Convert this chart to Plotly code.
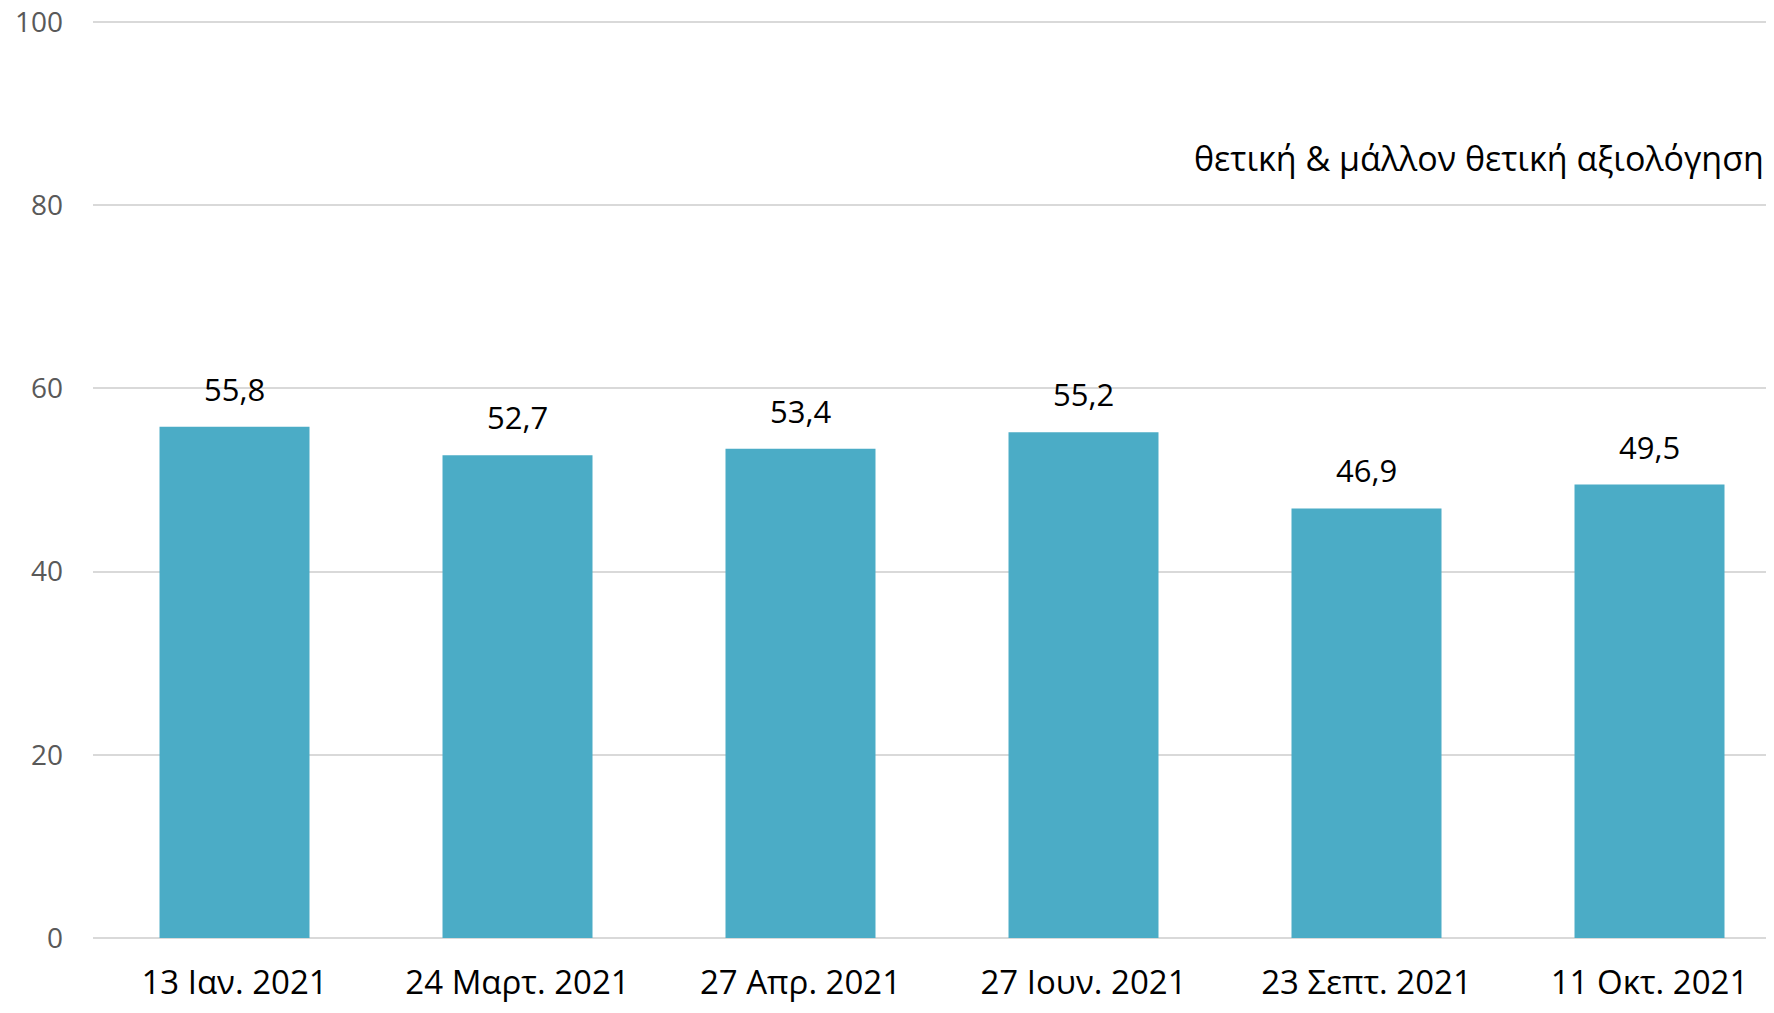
import plotly.graph_objects as go

categories = ["13 Ιαν. 2021", "24 Μαρτ. 2021", "27 Απρ. 2021", "27 Ιουν. 2021", "23 Σεπτ. 2021", "11 Οκτ. 2021"]
values = [55.8, 52.7, 53.4, 55.2, 46.9, 49.5]
series_name = "θετική & μάλλον θετική αξιολόγηση"
y_ticks = [0, 20, 40, 60, 80, 100]

# page has an 8px body margin; keep figure inside the viewport
W, H = 1758, 997
ML, MR, MT, MB = 85, 0, 12, 67
PH = H - MT - MB
PW = W - ML - MR
YTOP = 100 * PH / 916
XSPAN = PW / 283.0

FONT = "Open Sans"

fig = go.Figure()
fig.add_trace(go.Bar(
    x=list(range(len(categories))), y=values, name=series_name,
    marker=dict(color="#4BACC6", line=dict(width=0)),
    width=0.53, showlegend=False, hoverinfo="skip",
))

for i, v in enumerate(values):
    fig.add_annotation(
        x=i, y=v, xref="x", yref="y", text=f"{v:.1f}".replace(".", ","),
        showarrow=False, yanchor="bottom", yshift=15,
        font=dict(family=FONT, size=31, color="#000000"),
    )

fig.add_annotation(
    x=1.0, y=(930 - 150) / PH, xref="paper", yref="paper",
    text=series_name, showarrow=False, xanchor="right", yanchor="middle",
    font=dict(family=FONT, size=34, color="#000000"),
)

fig.update_layout(
    width=W, height=H,
    margin=dict(l=ML, r=MR, t=MT, b=MB, pad=0, autoexpand=False),
    paper_bgcolor="white", plot_bgcolor="white",
)
fig.update_xaxes(
    tickmode="array", tickvals=list(range(len(categories))), ticktext=categories,
    range=[-0.5, -0.5 + XSPAN], showgrid=False, showline=False, zeroline=False, ticks="",
    tickfont=dict(family=FONT, size=33, color="#000000"),
    ticklabelstandoff=22, automargin=False,
)
fig.update_yaxes(
    range=[0, YTOP], tickvals=y_ticks, showgrid=True, gridcolor="#d9d9d9", gridwidth=1.5,
    zeroline=True, zerolinecolor="#d9d9d9", zerolinewidth=2, showline=False, ticks="",
    tickfont=dict(family=FONT, size=28, color="#595959"),
    ticklabelstandoff=29, ticklabeloverflow="allow", automargin=False,
)

fig.write_html("out.html")
